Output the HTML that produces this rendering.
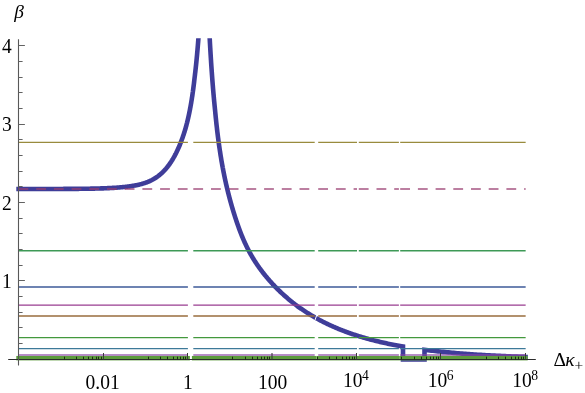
<!DOCTYPE html>
<html><head><meta charset="utf-8"><title>plot</title>
<style>html,body{margin:0;padding:0;background:#fff;overflow:hidden}body{width:585px;height:393px;font-family:"Liberation Serif",serif}</style>
</head><body>
<div style="will-change:transform;width:585px;height:393px">
<svg width="585" height="393" viewBox="0 0 585 393" style="display:block">
<rect width="585" height="393" fill="#fff"/>
<defs><clipPath id="pc"><rect x="0" y="38.2" width="585" height="323.5"/></clipPath></defs>
<g clip-path="url(#pc)"><path d="M16.30 188.99 L18.50 188.99 L20.07 188.99 L21.62 188.99 L23.17 188.99 L24.70 188.99 L26.21 188.99 L27.72 188.99 L29.21 188.99 L30.68 188.98 L32.15 188.98 L33.60 188.98 L35.04 188.98 L36.47 188.98 L37.89 188.98 L39.30 188.98 L40.69 188.98 L42.07 188.97 L43.44 188.97 L44.80 188.97 L46.15 188.97 L47.48 188.97 L48.81 188.96 L50.12 188.96 L51.42 188.96 L52.71 188.96 L53.99 188.95 L55.26 188.95 L56.52 188.95 L57.77 188.94 L59.01 188.94 L60.24 188.93 L61.45 188.93 L62.66 188.93 L63.86 188.92 L65.04 188.91 L66.22 188.91 L67.39 188.90 L68.54 188.90 L69.69 188.89 L70.83 188.88 L71.96 188.88 L73.07 188.87 L74.18 188.86 L75.28 188.85 L76.37 188.84 L77.45 188.84 L78.53 188.83 L79.59 188.82 L80.64 188.80 L81.69 188.79 L82.72 188.78 L83.75 188.77 L84.77 188.76 L85.78 188.74 L86.78 188.73 L87.78 188.71 L88.76 188.70 L89.74 188.68 L90.71 188.66 L91.67 188.65 L92.62 188.63 L93.56 188.61 L94.50 188.59 L95.43 188.57 L96.35 188.55 L97.26 188.52 L98.17 188.50 L99.06 188.47 L99.95 188.45 L100.84 188.42 L101.71 188.39 L102.58 188.37 L103.44 188.34 L104.29 188.30 L105.14 188.27 L105.98 188.24 L106.81 188.20 L107.64 188.17 L108.45 188.13 L109.26 188.09 L110.07 188.05 L110.87 188.01 L111.66 187.97 L112.44 187.92 L113.22 187.88 L113.99 187.83 L114.75 187.78 L115.51 187.73 L116.26 187.68 L117.01 187.63 L117.75 187.57 L118.48 187.51 L119.21 187.46 L119.93 187.40 L120.64 187.33 L121.35 187.27 L122.05 187.21 L122.75 187.14 L123.44 187.07 L124.12 187.00 L124.80 186.92 L125.47 186.85 L126.14 186.77 L126.80 186.69 L127.46 186.61 L128.11 186.53 L128.76 186.45 L129.40 186.36 L130.03 186.27 L130.66 186.18 L131.28 186.08 L131.90 185.99 L132.52 185.89 L133.13 185.79 L133.73 185.69 L134.33 185.59 L134.92 185.48 L135.51 185.37 L136.09 185.26 L136.67 185.15 L137.24 185.03 L137.81 184.91 L138.37 184.78 L138.93 184.66 L139.49 184.53 L140.04 184.39 L140.58 184.25 L141.12 184.11 L141.66 183.97 L142.19 183.82 L142.72 183.66 L143.24 183.51 L143.76 183.35 L144.27 183.18 L144.78 183.01 L145.28 182.84 L145.79 182.67 L146.28 182.49 L146.77 182.30 L147.26 182.11 L147.75 181.92 L148.23 181.72 L148.70 181.52 L149.17 181.32 L149.64 181.11 L150.11 180.89 L150.57 180.68 L151.02 180.45 L151.48 180.23 L151.92 180.00 L152.37 179.76 L152.81 179.52 L153.25 179.28 L153.68 179.03 L154.11 178.78 L154.54 178.52 L154.96 178.26 L155.38 178.00 L155.80 177.73 L156.21 177.46 L156.62 177.18 L157.02 176.90 L157.42 176.61 L157.82 176.32 L158.22 176.03 L158.61 175.73 L159.00 175.42 L159.38 175.12 L159.77 174.80 L160.14 174.49 L160.52 174.17 L160.89 173.85 L161.26 173.52 L161.63 173.19 L161.99 172.85 L162.35 172.51 L162.71 172.17 L163.06 171.82 L163.41 171.47 L163.76 171.11 L164.11 170.75 L164.45 170.39 L164.79 170.02 L165.13 169.65 L165.46 169.28 L165.79 168.90 L166.12 168.52 L166.44 168.13 L166.77 167.74 L167.09 167.35 L167.40 166.96 L167.72 166.56 L168.03 166.16 L168.34 165.75 L168.64 165.34 L168.95 164.93 L169.25 164.52 L169.55 164.10 L169.85 163.68 L170.14 163.25 L170.43 162.82 L170.72 162.39 L171.01 161.96 L171.29 161.52 L171.57 161.08 L171.85 160.64 L172.13 160.20 L172.40 159.75 L172.68 159.30 L172.95 158.85 L173.21 158.39 L173.48 157.94 L173.74 157.48 L174.00 157.01 L174.26 156.55 L174.52 156.08 L174.77 155.61 L175.03 155.14 L175.28 154.66 L175.53 154.19 L175.77 153.71 L176.02 153.23 L176.26 152.74 L176.50 152.26 L176.74 151.77 L176.97 151.28 L177.21 150.79 L177.44 150.30 L177.67 149.80 L177.90 149.30 L178.12 148.81 L178.35 148.30 L178.57 147.80 L178.79 147.30 L179.01 146.79 L179.22 146.28 L179.44 145.77 L179.65 145.26 L179.86 144.75 L180.07 144.23 L180.28 143.72 L180.49 143.20 L180.69 142.68 L180.89 142.16 L181.09 141.64 L181.29 141.12 L181.49 140.59 L181.69 140.06 L181.88 139.54 L182.07 139.01 L182.26 138.48 L182.45 137.94 L182.64 137.41 L182.83 136.87 L183.01 136.34 L183.20 135.80 L183.38 135.26 L183.56 134.72 L183.74 134.18 L183.91 133.64 L184.09 133.10 L184.26 132.55 L184.43 132.00 L184.61 131.45 L184.78 130.89 L184.94 130.34 L185.11 129.78 L185.28 129.22 L185.44 128.65 L185.60 128.09 L185.76 127.52 L185.92 126.94 L186.08 126.37 L186.24 125.79 L186.39 125.21 L186.55 124.63 L186.70 124.04 L186.85 123.46 L187.01 122.87 L187.15 122.27 L187.30 121.68 L187.45 121.08 L187.60 120.48 L187.74 119.87 L187.88 119.27 L188.03 118.66 L188.17 118.05 L188.31 117.43 L188.44 116.81 L188.58 116.19 L188.72 115.57 L188.85 114.95 L188.99 114.32 L189.12 113.69 L189.25 113.05 L189.38 112.42 L189.51 111.78 L189.64 111.14 L189.77 110.49 L189.89 109.84 L190.02 109.19 L190.14 108.54 L190.26 107.89 L190.39 107.23 L190.51 106.57 L190.63 105.90 L190.75 105.24 L190.86 104.57 L190.98 103.89 L191.10 103.22 L191.21 102.54 L191.33 101.86 L191.44 101.18 L191.55 100.49 L191.66 99.80 L191.77 99.11 L191.88 98.41 L191.99 97.71 L192.10 97.01 L192.20 96.31 L192.31 95.60 L192.41 94.89 L192.52 94.18 L192.62 93.47 L192.72 92.75 L192.82 92.03 L192.93 91.30 L193.02 90.57 L193.12 89.84 L193.22 89.11 L193.32 88.38 L193.41 87.64 L193.51 86.89 L193.60 86.15 L193.70 85.40 L193.79 84.65 L193.88 83.90 L193.98 83.14 L194.07 82.38 L194.16 81.62 L194.25 80.85 L194.33 80.08 L194.42 79.31 L194.51 78.53 L194.60 77.76 L194.69 76.98 L194.79 76.19 L194.88 75.40 L194.98 74.61 L195.07 73.82 L195.17 73.02 L195.26 72.22 L195.35 71.42 L195.44 70.61 L195.53 69.80 L195.62 68.99 L195.71 68.18 L195.80 67.36 L195.89 66.54 L195.97 65.71 L196.06 64.88 L196.15 64.05 L196.23 63.22 L196.32 62.38 L196.40 61.54 L196.49 60.69 L196.57 59.84 L196.65 58.99 L196.73 58.14 L196.81 57.28 L196.90 56.42 L196.98 55.56 L197.06 54.69 L197.14 53.82 L197.21 52.95 L197.29 52.07 L197.37 51.19 L197.45 50.30 L197.53 49.42 L197.60 48.53 L197.68 47.63 L197.75 46.74 L197.83 45.83 L197.90 44.93 L197.98 44.02 L198.05 43.11 L198.12 42.20 L198.20 41.28 L198.27 40.36 L198.34 39.44 L198.41 38.51 L198.48 37.58 L198.53 36.64 L198.59 35.70 L198.65 34.76 L198.70 33.82 L198.76 32.87 L198.81 31.92 L198.87 30.96 L198.92 30.00 M209.35 30.00 L209.39 30.98 L209.43 31.96 L209.47 32.93 L209.51 33.90 L209.55 34.87 L209.59 35.84 L209.63 36.80 L209.67 37.77 L209.72 38.73 L209.77 39.69 L209.82 40.64 L209.87 41.60 L209.93 42.55 L209.98 43.50 L210.03 44.44 L210.08 45.39 L210.14 46.33 L210.19 47.27 L210.25 48.21 L210.30 49.15 L210.36 50.08 L210.41 51.01 L210.47 51.94 L210.52 52.87 L210.58 53.80 L210.63 54.72 L210.69 55.64 L210.75 56.56 L210.80 57.48 L210.86 58.39 L210.92 59.30 L210.98 60.22 L211.04 61.12 L211.09 62.03 L211.15 62.94 L211.21 63.84 L211.27 64.74 L211.33 65.64 L211.39 66.53 L211.45 67.43 L211.52 68.32 L211.58 69.21 L211.64 70.10 L211.70 70.99 L211.76 71.87 L211.83 72.76 L211.89 73.64 L211.95 74.51 L212.02 75.39 L212.08 76.27 L212.15 77.14 L212.21 78.01 L212.28 78.88 L212.35 79.75 L212.41 80.61 L212.48 81.48 L212.55 82.34 L212.61 83.20 L212.68 84.06 L212.75 84.91 L212.82 85.77 L212.89 86.62 L212.96 87.47 L213.03 88.32 L213.10 89.16 L213.17 90.01 L213.24 90.85 L213.31 91.69 L213.39 92.53 L213.46 93.37 L213.53 94.21 L213.61 95.04 L213.68 95.88 L213.75 96.71 L213.83 97.54 L213.91 98.36 L213.98 99.19 L214.06 100.01 L214.13 100.83 L214.21 101.66 L214.29 102.47 L214.37 103.29 L214.45 104.11 L214.53 104.92 L214.61 105.73 L214.69 106.54 L214.77 107.35 L214.85 108.16 L214.93 108.96 L215.01 109.77 L215.09 110.57 L215.17 111.37 L215.24 112.17 L215.32 112.97 L215.39 113.76 L215.47 114.56 L215.55 115.35 L215.63 116.14 L215.71 116.93 L215.79 117.72 L215.87 118.51 L215.95 119.29 L216.03 120.07 L216.11 120.86 L216.19 121.64 L216.28 122.42 L216.36 123.19 L216.44 123.97 L216.53 124.74 L216.62 125.52 L216.70 126.29 L216.79 127.06 L216.88 127.83 L216.96 128.59 L217.05 129.36 L217.14 130.12 L217.23 130.89 L217.32 131.65 L217.41 132.41 L217.51 133.17 L217.60 133.92 L217.69 134.68 L217.79 135.43 L217.88 136.19 L217.98 136.94 L218.07 137.69 L218.17 138.44 L218.27 139.18 L218.36 139.93 L218.46 140.68 L218.56 141.42 L218.66 142.16 L218.76 142.90 L218.87 143.64 L218.97 144.38 L219.07 145.12 L219.18 145.85 L219.28 146.59 L219.39 147.32 L219.49 148.05 L219.60 148.78 L219.71 149.51 L219.82 150.24 L219.93 150.97 L220.04 151.69 L220.15 152.42 L220.26 153.14 L220.37 153.86 L220.49 154.58 L220.60 155.30 L220.72 156.02 L220.83 156.74 L220.95 157.46 L221.07 158.17 L221.18 158.88 L221.30 159.60 L221.42 160.31 L221.54 161.02 L221.67 161.73 L221.79 162.44 L221.91 163.14 L222.04 163.85 L222.16 164.56 L222.29 165.26 L222.42 165.96 L222.55 166.66 L222.67 167.36 L222.81 168.06 L222.94 168.76 L223.07 169.46 L223.20 170.16 L223.33 170.85 L223.47 171.55 L223.61 172.24 L223.74 172.93 L223.88 173.62 L224.02 174.31 L224.16 175.00 L224.30 175.69 L224.44 176.38 L224.58 177.06 L224.73 177.75 L224.87 178.43 L225.02 179.12 L225.16 179.80 L225.31 180.48 L225.46 181.16 L225.61 181.84 L225.76 182.52 L225.91 183.20 L226.06 183.88 L226.22 184.55 L226.37 185.23 L226.53 185.90 L226.69 186.58 L226.84 187.25 L227.00 187.92 L227.16 188.59 L227.32 189.26 L227.49 189.93 L227.65 190.60 L227.81 191.27 L227.98 191.93 L228.14 192.60 L228.31 193.26 L228.48 193.93 L228.65 194.59 L228.82 195.25 L228.99 195.92 L229.16 196.58 L229.34 197.24 L229.51 197.90 L229.69 198.56 L229.86 199.21 L230.04 199.87 L230.22 200.53 L230.40 201.18 L230.58 201.84 L230.76 202.49 L230.94 203.15 L231.13 203.80 L231.31 204.45 L231.50 205.10 L231.68 205.75 L231.87 206.40 L232.06 207.05 L232.25 207.70 L232.44 208.35 L232.63 209.00 L232.83 209.64 L233.02 210.29 L233.21 210.93 L233.41 211.58 L233.61 212.22 L233.81 212.86 L234.00 213.51 L234.20 214.15 L234.41 214.79 L234.61 215.43 L234.81 216.07 L235.02 216.71 L235.22 217.35 L235.43 217.99 L235.64 218.63 L235.84 219.26 L236.05 219.90 L236.27 220.53 L236.48 221.17 L236.69 221.80 L236.91 222.44 L237.12 223.07 L237.34 223.70 L237.56 224.34 L237.78 224.97 L238.00 225.60 L238.23 226.23 L238.45 226.86 L238.68 227.49 L238.91 228.12 L239.14 228.75 L239.37 229.37 L239.60 230.00 L239.84 230.63 L240.07 231.25 L240.31 231.88 L240.55 232.50 L240.79 233.13 L241.04 233.75 L241.28 234.37 L241.53 235.00 L241.78 235.62 L242.04 236.24 L242.29 236.86 L242.55 237.48 L242.81 238.10 L243.07 238.72 L243.34 239.34 L243.60 239.95 L243.87 240.57 L244.14 241.19 L244.42 241.81 L244.70 242.42 L244.98 243.04 L245.26 243.65 L245.55 244.26 L245.83 244.88 L246.13 245.49 L246.42 246.10 L246.72 246.71 L247.02 247.33 L247.32 247.94 L247.63 248.55 L247.94 249.15 L248.26 249.76 L248.57 250.37 L248.89 250.98 L249.22 251.59 L249.54 252.19 L249.87 252.80 L250.21 253.40 L250.54 254.01 L250.89 254.61 L251.23 255.21 L251.58 255.81 L251.93 256.42 L252.28 257.02 L252.64 257.62 L253.00 258.22 L253.37 258.82 L253.74 259.41 L254.11 260.01 L254.49 260.61 L254.87 261.20 L255.25 261.80 L255.64 262.39 L256.03 262.99 L256.42 263.58 L256.82 264.17 L257.22 264.76 L257.63 265.35 L258.04 265.94 L258.45 266.53 L258.86 267.12 L259.28 267.71 L259.71 268.29 L260.13 268.88 L260.56 269.47 L261.00 270.05 L261.43 270.63 L261.87 271.21 L262.32 271.80 L262.76 272.38 L263.21 272.95 L263.67 273.53 L264.12 274.11 L264.59 274.69 L265.05 275.26 L265.52 275.84 L265.99 276.41 L266.46 276.98 L266.94 277.55 L267.42 278.12 L267.91 278.69 L268.39 279.26 L268.89 279.83 L269.38 280.40 L269.88 280.96 L270.38 281.52 L270.88 282.09 L271.39 282.65 L271.90 283.21 L272.42 283.77 L272.93 284.33 L273.46 284.88 L273.98 285.44 L274.51 285.99 L275.04 286.55 L275.57 287.10 L276.11 287.65 L276.65 288.20 L277.20 288.75 L277.75 289.29 L278.30 289.84 L278.86 290.38 L279.42 290.93 L279.98 291.47 L280.55 292.01 L281.12 292.55 L281.69 293.08 L282.27 293.62 L282.85 294.15 L283.43 294.69 L284.02 295.22 L284.61 295.75 L285.21 296.28 L285.81 296.80 L286.41 297.33 L287.02 297.85 L287.63 298.38 L288.25 298.90 L288.87 299.42 L289.49 299.94 L290.12 300.45 L290.75 300.97 L291.39 301.48 L292.03 301.99 L292.67 302.51 L293.32 303.01 L293.98 303.52 L294.63 304.03 L295.30 304.53 L295.96 305.03 L296.63 305.53 L297.31 306.03 L297.99 306.53 L298.67 307.03 L299.36 307.52 L300.06 308.01 L300.76 308.50 L301.46 308.99 L302.17 309.48 L302.88 309.97 L303.60 310.45 L304.33 310.93 L305.05 311.41 L305.79 311.89 L306.53 312.37 L307.27 312.84 L308.02 313.31 L308.77 313.78 L309.53 314.25 L310.30 314.72 L311.07 315.19 L311.84 315.65 L312.63 316.11 L313.41 316.57 L314.21 317.03 L315.00 317.49 L315.81 317.94 L316.62 318.39 L317.43 318.84 L318.25 319.29 L319.08 319.74 L319.91 320.18 L320.75 320.62 L321.60 321.06 L322.45 321.50 L323.30 321.94 L324.17 322.37 L325.03 322.80 L325.91 323.23 L326.79 323.66 L327.68 324.08 L328.57 324.50 L329.47 324.93 L330.38 325.34 L331.30 325.76 L332.22 326.17 L333.14 326.59 L334.08 326.99 L335.02 327.40 L335.96 327.81 L336.92 328.21 L337.88 328.61 L338.85 329.01 L339.82 329.40 L340.80 329.79 L341.79 330.18 L342.79 330.57 L343.79 330.96 L344.80 331.34 L345.82 331.72 L346.85 332.10 L347.88 332.48 L348.92 332.85 L349.97 333.22 L351.02 333.59 L352.08 333.95 L353.16 334.31 L354.23 334.67 L355.32 335.03 L356.41 335.39 L357.52 335.74 L358.63 336.09 L359.74 336.43 L360.87 336.78 L362.01 337.12 L363.15 337.46 L364.30 337.79 L365.46 338.13 L366.63 338.46 L367.80 338.78 L368.99 339.11 L370.18 339.43 L371.38 339.75 L372.59 340.06 L373.81 340.38 L375.04 340.69 L376.28 341.00 L377.52 341.30 L378.78 341.60 L380.04 341.90 L381.32 342.20 L382.60 342.49 L383.89 342.78 L385.19 343.07 L386.50 343.35 L387.83 343.63 L389.16 343.91 L390.50 344.19 L391.84 344.46 L393.20 344.73 L394.57 344.99 L395.95 345.26 L397.34 345.52 L398.74 345.78 L400.15 346.03 L401.57 346.28 L403.00 346.53 L403 359.6 L424.5 359.6 L424.50 349.76 L426.21 349.97 L427.93 350.19 L429.64 350.40 L431.36 350.60 L433.07 350.80 L434.79 351.00 L436.50 351.19 L438.22 351.38 L439.93 351.56 L441.64 351.74 L443.36 351.91 L445.07 352.08 L446.79 352.25 L448.50 352.41 L450.22 352.57 L451.93 352.73 L453.64 352.88 L455.36 353.03 L457.07 353.17 L458.79 353.32 L460.50 353.45 L462.22 353.59 L463.93 353.72 L465.65 353.85 L467.36 353.98 L469.07 354.10 L470.79 354.22 L472.50 354.34 L474.22 354.46 L475.93 354.57 L477.65 354.68 L479.36 354.79 L481.08 354.89 L482.79 355.00 L484.50 355.10 L486.22 355.20 L487.93 355.29 L489.65 355.39 L491.36 355.48 L493.08 355.57 L494.79 355.66 L496.51 355.74 L498.22 355.83 L499.93 355.91 L501.65 355.99 L503.36 356.07 L505.08 356.14 L506.79 356.22 L508.51 356.29 L510.22 356.36 L511.93 356.43 L513.65 356.50 L515.36 356.57 L517.08 356.63 L518.79 356.70 L520.51 356.76 L522.22 356.82 L523.94 356.88 L525.65 356.94 L527.85 356.96" fill="none" stroke="#3f3d99" stroke-width="4.6" stroke-linejoin="miter" stroke-linecap="butt"/></g>
<line x1="317.05" y1="314.4" x2="314.85" y2="320.4" stroke="#fff" stroke-width="1.0"/>
<line x1="18.50" y1="189.00" x2="187.90" y2="189.00" stroke="#993d71" stroke-width="1.3" stroke-linecap="butt" stroke-dasharray="9.8 7.9" stroke-opacity="0.88"/>
<line x1="193.30" y1="189.00" x2="314.70" y2="189.00" stroke="#993d71" stroke-width="1.3" stroke-linecap="butt" stroke-dasharray="9.8 7.9" stroke-opacity="0.88"/>
<line x1="318.20" y1="189.00" x2="357.00" y2="189.00" stroke="#993d71" stroke-width="1.3" stroke-linecap="butt" stroke-dasharray="9.8 7.9" stroke-opacity="0.88"/>
<line x1="358.80" y1="189.00" x2="398.90" y2="189.00" stroke="#993d71" stroke-width="1.3" stroke-linecap="butt" stroke-dasharray="9.8 7.9" stroke-opacity="0.88"/>
<line x1="400.20" y1="189.00" x2="525.65" y2="189.00" stroke="#993d71" stroke-width="1.3" stroke-linecap="butt" stroke-dasharray="9.8 7.9" stroke-opacity="0.88"/>
<line x1="18.50" y1="142.30" x2="187.90" y2="142.30" stroke="#998b3d" stroke-width="1.15" stroke-linecap="butt"/>
<line x1="193.30" y1="142.30" x2="314.70" y2="142.30" stroke="#998b3d" stroke-width="1.15" stroke-linecap="butt"/>
<line x1="318.20" y1="142.30" x2="357.00" y2="142.30" stroke="#998b3d" stroke-width="1.15" stroke-linecap="butt"/>
<line x1="358.80" y1="142.30" x2="398.90" y2="142.30" stroke="#998b3d" stroke-width="1.15" stroke-linecap="butt"/>
<line x1="400.20" y1="142.30" x2="525.65" y2="142.30" stroke="#998b3d" stroke-width="1.15" stroke-linecap="butt"/>
<line x1="18.50" y1="250.76" x2="187.90" y2="250.76" stroke="#3d9956" stroke-width="1.3" stroke-linecap="butt"/>
<line x1="193.30" y1="250.76" x2="314.70" y2="250.76" stroke="#3d9956" stroke-width="1.3" stroke-linecap="butt"/>
<line x1="318.20" y1="250.76" x2="357.00" y2="250.76" stroke="#3d9956" stroke-width="1.3" stroke-linecap="butt"/>
<line x1="358.80" y1="250.76" x2="398.90" y2="250.76" stroke="#3d9956" stroke-width="1.3" stroke-linecap="butt"/>
<line x1="400.20" y1="250.76" x2="525.65" y2="250.76" stroke="#3d9956" stroke-width="1.3" stroke-linecap="butt"/>
<line x1="18.50" y1="286.99" x2="187.90" y2="286.99" stroke="#3d5a99" stroke-width="1.3" stroke-linecap="butt"/>
<line x1="193.30" y1="286.99" x2="314.70" y2="286.99" stroke="#3d5a99" stroke-width="1.3" stroke-linecap="butt"/>
<line x1="318.20" y1="286.99" x2="357.00" y2="286.99" stroke="#3d5a99" stroke-width="1.3" stroke-linecap="butt"/>
<line x1="358.80" y1="286.99" x2="398.90" y2="286.99" stroke="#3d5a99" stroke-width="1.3" stroke-linecap="butt"/>
<line x1="400.20" y1="286.99" x2="525.65" y2="286.99" stroke="#3d5a99" stroke-width="1.3" stroke-linecap="butt"/>
<line x1="18.50" y1="305.11" x2="187.90" y2="305.11" stroke="#993d90" stroke-width="1.3" stroke-linecap="butt"/>
<line x1="193.30" y1="305.11" x2="314.70" y2="305.11" stroke="#993d90" stroke-width="1.3" stroke-linecap="butt"/>
<line x1="318.20" y1="305.11" x2="357.00" y2="305.11" stroke="#993d90" stroke-width="1.3" stroke-linecap="butt"/>
<line x1="358.80" y1="305.11" x2="398.90" y2="305.11" stroke="#993d90" stroke-width="1.3" stroke-linecap="butt"/>
<line x1="400.20" y1="305.11" x2="525.65" y2="305.11" stroke="#993d90" stroke-width="1.3" stroke-linecap="butt"/>
<line x1="18.50" y1="315.98" x2="187.90" y2="315.98" stroke="#996d3d" stroke-width="1.3" stroke-linecap="butt"/>
<line x1="193.30" y1="315.98" x2="314.70" y2="315.98" stroke="#996d3d" stroke-width="1.3" stroke-linecap="butt"/>
<line x1="318.20" y1="315.98" x2="357.00" y2="315.98" stroke="#996d3d" stroke-width="1.3" stroke-linecap="butt"/>
<line x1="358.80" y1="315.98" x2="398.90" y2="315.98" stroke="#996d3d" stroke-width="1.3" stroke-linecap="butt"/>
<line x1="400.20" y1="315.98" x2="525.65" y2="315.98" stroke="#996d3d" stroke-width="1.3" stroke-linecap="butt"/>
<line x1="18.50" y1="337.71" x2="187.90" y2="337.71" stroke="#43993d" stroke-width="1.3" stroke-linecap="butt"/>
<line x1="193.30" y1="337.71" x2="314.70" y2="337.71" stroke="#43993d" stroke-width="1.3" stroke-linecap="butt"/>
<line x1="318.20" y1="337.71" x2="357.00" y2="337.71" stroke="#43993d" stroke-width="1.3" stroke-linecap="butt"/>
<line x1="358.80" y1="337.71" x2="398.90" y2="337.71" stroke="#43993d" stroke-width="1.3" stroke-linecap="butt"/>
<line x1="400.20" y1="337.71" x2="525.65" y2="337.71" stroke="#43993d" stroke-width="1.3" stroke-linecap="butt"/>
<line x1="18.50" y1="348.58" x2="187.90" y2="348.58" stroke="#3d7999" stroke-width="1.3" stroke-linecap="butt"/>
<line x1="193.30" y1="348.58" x2="314.70" y2="348.58" stroke="#3d7999" stroke-width="1.3" stroke-linecap="butt"/>
<line x1="318.20" y1="348.58" x2="357.00" y2="348.58" stroke="#3d7999" stroke-width="1.3" stroke-linecap="butt"/>
<line x1="358.80" y1="348.58" x2="398.90" y2="348.58" stroke="#3d7999" stroke-width="1.3" stroke-linecap="butt"/>
<line x1="400.20" y1="348.58" x2="525.65" y2="348.58" stroke="#3d7999" stroke-width="1.3" stroke-linecap="butt"/>
<line x1="18.50" y1="355.00" x2="187.90" y2="355.00" stroke="#8a45a5" stroke-width="1.45" stroke-linecap="butt" stroke-opacity="0.82"/>
<line x1="193.30" y1="355.00" x2="314.70" y2="355.00" stroke="#8a45a5" stroke-width="1.45" stroke-linecap="butt" stroke-opacity="0.82"/>
<line x1="318.20" y1="355.00" x2="357.00" y2="355.00" stroke="#8a45a5" stroke-width="1.45" stroke-linecap="butt" stroke-opacity="0.82"/>
<line x1="358.80" y1="355.00" x2="398.90" y2="355.00" stroke="#8a45a5" stroke-width="1.45" stroke-linecap="butt" stroke-opacity="0.82"/>
<line x1="400.20" y1="355.00" x2="525.65" y2="355.00" stroke="#8a45a5" stroke-width="1.45" stroke-linecap="butt" stroke-opacity="0.82"/>
<rect x="16.3" y="355.95" width="173.60" height="4.0" fill="#5c9b3c"/>
<rect x="16.3" y="359.9" width="173.60" height="0.65" fill="#5c9b3c" opacity="0.7"/>
<rect x="191.9" y="355.95" width="335.80" height="4.0" fill="#5c9b3c"/>
<rect x="191.9" y="359.9" width="335.80" height="0.65" fill="#5c9b3c" opacity="0.7"/>
<line x1="316.4" y1="356" x2="316.4" y2="360.4" stroke="#cfe3c4" stroke-width="0.6" opacity="0.7"/>
<line x1="399.5" y1="356" x2="399.5" y2="360.4" stroke="#cfe3c4" stroke-width="0.5" opacity="0.5"/>
<line x1="8.2" y1="359.5" x2="535.8" y2="359.5" stroke="#2b2b2b" stroke-width="1.05"/>
<line x1="18.5" y1="39.2" x2="18.5" y2="365.6" stroke="#585858" stroke-width="1.1"/>
<line x1="18.5" y1="343.50" x2="22.60" y2="343.50" stroke="#626262" stroke-width="1"/>
<line x1="18.5" y1="327.50" x2="22.60" y2="327.50" stroke="#626262" stroke-width="1"/>
<line x1="18.5" y1="312.50" x2="22.60" y2="312.50" stroke="#626262" stroke-width="1"/>
<line x1="18.5" y1="296.50" x2="22.60" y2="296.50" stroke="#626262" stroke-width="1"/>
<line x1="18.5" y1="280.50" x2="24.90" y2="280.50" stroke="#626262" stroke-width="1"/>
<line x1="18.5" y1="265.50" x2="22.60" y2="265.50" stroke="#626262" stroke-width="1"/>
<line x1="18.5" y1="249.50" x2="22.60" y2="249.50" stroke="#626262" stroke-width="1"/>
<line x1="18.5" y1="233.50" x2="22.60" y2="233.50" stroke="#626262" stroke-width="1"/>
<line x1="18.5" y1="218.50" x2="22.60" y2="218.50" stroke="#626262" stroke-width="1"/>
<line x1="18.5" y1="202.50" x2="24.90" y2="202.50" stroke="#626262" stroke-width="1"/>
<line x1="18.5" y1="186.50" x2="22.60" y2="186.50" stroke="#626262" stroke-width="1"/>
<line x1="18.5" y1="171.50" x2="22.60" y2="171.50" stroke="#626262" stroke-width="1"/>
<line x1="18.5" y1="155.50" x2="22.60" y2="155.50" stroke="#626262" stroke-width="1"/>
<line x1="18.5" y1="139.50" x2="22.60" y2="139.50" stroke="#626262" stroke-width="1"/>
<line x1="18.5" y1="124.50" x2="24.90" y2="124.50" stroke="#626262" stroke-width="1"/>
<line x1="18.5" y1="108.50" x2="22.60" y2="108.50" stroke="#626262" stroke-width="1"/>
<line x1="18.5" y1="92.50" x2="22.60" y2="92.50" stroke="#626262" stroke-width="1"/>
<line x1="18.5" y1="77.50" x2="22.60" y2="77.50" stroke="#626262" stroke-width="1"/>
<line x1="18.5" y1="61.50" x2="22.60" y2="61.50" stroke="#626262" stroke-width="1"/>
<line x1="18.5" y1="45.50" x2="24.90" y2="45.50" stroke="#626262" stroke-width="1"/>
<line x1="103.50" y1="359.5" x2="103.50" y2="353.0" stroke="#3a3a3a" stroke-width="1.0" stroke-opacity="1"/>
<line x1="64.50" y1="359.5" x2="64.50" y2="356.7" stroke="#1e2d13" stroke-width="1"/>
<line x1="76.50" y1="359.5" x2="76.50" y2="356.7" stroke="#1e2d13" stroke-width="1"/>
<line x1="83.50" y1="359.5" x2="83.50" y2="356.7" stroke="#1e2d13" stroke-width="1"/>
<line x1="88.50" y1="359.5" x2="88.50" y2="356.7" stroke="#1e2d13" stroke-width="1"/>
<line x1="92.50" y1="359.5" x2="92.50" y2="356.7" stroke="#1e2d13" stroke-width="1"/>
<line x1="96.50" y1="359.5" x2="96.50" y2="356.7" stroke="#1e2d13" stroke-width="1"/>
<line x1="98.50" y1="359.5" x2="98.50" y2="356.7" stroke="#1e2d13" stroke-width="1"/>
<line x1="101.50" y1="359.5" x2="101.50" y2="356.7" stroke="#1e2d13" stroke-width="1"/>
<line x1="187.50" y1="359.5" x2="187.50" y2="353.0" stroke="#3a3a3a" stroke-width="1.0" stroke-opacity="1"/>
<line x1="148.50" y1="359.5" x2="148.50" y2="356.7" stroke="#1e2d13" stroke-width="1"/>
<line x1="160.50" y1="359.5" x2="160.50" y2="356.7" stroke="#1e2d13" stroke-width="1"/>
<line x1="167.50" y1="359.5" x2="167.50" y2="356.7" stroke="#1e2d13" stroke-width="1"/>
<line x1="173.50" y1="359.5" x2="173.50" y2="356.7" stroke="#1e2d13" stroke-width="1"/>
<line x1="177.50" y1="359.5" x2="177.50" y2="356.7" stroke="#1e2d13" stroke-width="1"/>
<line x1="180.50" y1="359.5" x2="180.50" y2="356.7" stroke="#1e2d13" stroke-width="1"/>
<line x1="183.50" y1="359.5" x2="183.50" y2="356.7" stroke="#1e2d13" stroke-width="1"/>
<line x1="185.50" y1="359.5" x2="185.50" y2="356.7" stroke="#1e2d13" stroke-width="1"/>
<line x1="272.00" y1="359.5" x2="272.00" y2="353.0" stroke="#3a3a3a" stroke-width="2.0" stroke-opacity="0.55"/>
<line x1="232.50" y1="359.5" x2="232.50" y2="356.7" stroke="#1e2d13" stroke-width="1"/>
<line x1="245.50" y1="359.5" x2="245.50" y2="356.7" stroke="#1e2d13" stroke-width="1"/>
<line x1="252.50" y1="359.5" x2="252.50" y2="356.7" stroke="#1e2d13" stroke-width="1"/>
<line x1="257.50" y1="359.5" x2="257.50" y2="356.7" stroke="#1e2d13" stroke-width="1"/>
<line x1="261.50" y1="359.5" x2="261.50" y2="356.7" stroke="#1e2d13" stroke-width="1"/>
<line x1="264.50" y1="359.5" x2="264.50" y2="356.7" stroke="#1e2d13" stroke-width="1"/>
<line x1="267.50" y1="359.5" x2="267.50" y2="356.7" stroke="#1e2d13" stroke-width="1"/>
<line x1="269.50" y1="359.5" x2="269.50" y2="356.7" stroke="#1e2d13" stroke-width="1"/>
<line x1="356.50" y1="359.5" x2="356.50" y2="353.0" stroke="#3a3a3a" stroke-width="1.0" stroke-opacity="1"/>
<line x1="317.50" y1="359.5" x2="317.50" y2="356.7" stroke="#1e2d13" stroke-width="1"/>
<line x1="329.50" y1="359.5" x2="329.50" y2="356.7" stroke="#1e2d13" stroke-width="1"/>
<line x1="336.50" y1="359.5" x2="336.50" y2="356.7" stroke="#1e2d13" stroke-width="1"/>
<line x1="342.50" y1="359.5" x2="342.50" y2="356.7" stroke="#1e2d13" stroke-width="1"/>
<line x1="346.50" y1="359.5" x2="346.50" y2="356.7" stroke="#1e2d13" stroke-width="1"/>
<line x1="349.50" y1="359.5" x2="349.50" y2="356.7" stroke="#1e2d13" stroke-width="1"/>
<line x1="352.50" y1="359.5" x2="352.50" y2="356.7" stroke="#1e2d13" stroke-width="1"/>
<line x1="354.50" y1="359.5" x2="354.50" y2="356.7" stroke="#1e2d13" stroke-width="1"/>
<line x1="440.50" y1="359.5" x2="440.50" y2="353.0" stroke="#3a3a3a" stroke-width="1.0" stroke-opacity="1"/>
<line x1="401.50" y1="359.5" x2="401.50" y2="356.7" stroke="#1e2d13" stroke-width="1"/>
<line x1="414.50" y1="359.5" x2="414.50" y2="356.7" stroke="#1e2d13" stroke-width="1"/>
<line x1="421.50" y1="359.5" x2="421.50" y2="356.7" stroke="#1e2d13" stroke-width="1"/>
<line x1="426.50" y1="359.5" x2="426.50" y2="356.7" stroke="#1e2d13" stroke-width="1"/>
<line x1="430.50" y1="359.5" x2="430.50" y2="356.7" stroke="#1e2d13" stroke-width="1"/>
<line x1="433.50" y1="359.5" x2="433.50" y2="356.7" stroke="#1e2d13" stroke-width="1"/>
<line x1="436.50" y1="359.5" x2="436.50" y2="356.7" stroke="#1e2d13" stroke-width="1"/>
<line x1="438.50" y1="359.5" x2="438.50" y2="356.7" stroke="#1e2d13" stroke-width="1"/>
<line x1="525.50" y1="359.5" x2="525.50" y2="353.0" stroke="#3a3a3a" stroke-width="1.0" stroke-opacity="1"/>
<line x1="486.50" y1="359.5" x2="486.50" y2="356.7" stroke="#1e2d13" stroke-width="1"/>
<line x1="498.50" y1="359.5" x2="498.50" y2="356.7" stroke="#1e2d13" stroke-width="1"/>
<line x1="505.50" y1="359.5" x2="505.50" y2="356.7" stroke="#1e2d13" stroke-width="1"/>
<line x1="511.50" y1="359.5" x2="511.50" y2="356.7" stroke="#1e2d13" stroke-width="1"/>
<line x1="515.50" y1="359.5" x2="515.50" y2="356.7" stroke="#1e2d13" stroke-width="1"/>
<line x1="518.50" y1="359.5" x2="518.50" y2="356.7" stroke="#1e2d13" stroke-width="1"/>
<line x1="521.50" y1="359.5" x2="521.50" y2="356.7" stroke="#1e2d13" stroke-width="1"/>
<line x1="523.50" y1="359.5" x2="523.50" y2="356.7" stroke="#1e2d13" stroke-width="1"/>
<g font-family="'Liberation Serif', serif" font-size="19.5" fill="#000" style="filter:grayscale(1)">
<text transform="translate(11.80 288.05) scale(1 1.04)" text-anchor="end">1</text>
<text transform="translate(11.80 209.65) scale(1 1.04)" text-anchor="end">2</text>
<text transform="translate(11.80 131.25) scale(1 1.04)" text-anchor="end">3</text>
<text transform="translate(11.80 52.85) scale(1 1.04)" text-anchor="end">4</text>
<text transform="translate(102.60 388.90) scale(1 1.04)" text-anchor="middle">0.01</text>
<text transform="translate(187.80 388.90) scale(1 1.04)" text-anchor="middle">1</text>
<text transform="translate(272.60 388.90) scale(1 1.04)" text-anchor="middle">100</text>
<text transform="translate(343.10 386.90) scale(1 1.04)" text-anchor="start">10<tspan font-size="13.6" dy="-6.7" dx="-0.5">4</tspan></text>
<text transform="translate(427.80 386.90) scale(1 1.04)" text-anchor="start">10<tspan font-size="13.6" dy="-6.7" dx="-0.5">6</tspan></text>
<text transform="translate(512.30 386.90) scale(1 1.04)" text-anchor="start">10<tspan font-size="13.6" dy="-6.7" dx="-0.5">8</tspan></text>
<text x="14.3" y="17.9" font-style="italic" font-size="19.4">β</text>
<text x="553.6" y="365.8">Δ<tspan font-style="italic" dx="-0.9">κ</tspan><tspan font-size="15.4" dy="4.0" dx="-0.2">+</tspan></text>
</g>
</svg>
</div>
</body></html>
